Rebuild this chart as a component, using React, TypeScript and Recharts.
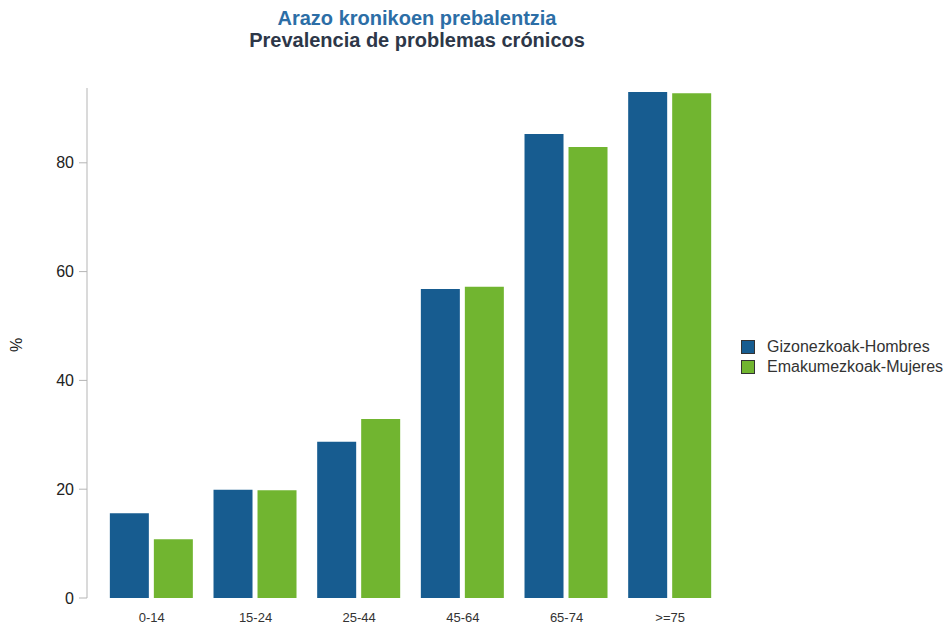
import { BarChart, Bar, XAxis, YAxis } from 'recharts';

const ageGroups = ['0-14', '15-24', '25-44', '45-64', '65-74', '>=75'];
const hombres = [15.6, 19.9, 28.7, 56.8, 85.3, 93.0];
const mujeres = [10.8, 19.8, 32.9, 57.2, 82.9, 92.8];
const yTicks = [0, 20, 40, 60, 80];

const seriesNames = ['Gizonezkoak-Hombres', 'Emakumezkoak-Mujeres'];
const seriesColors = ['#175c90', '#71b530'];

const data = ageGroups.map((g, i) => ({
  group: g,
  hombres: hombres[i],
  mujeres: mujeres[i],
}));

const font = '"Liberation Sans", Arial, sans-serif';

const ChartLegend = () => (
  <div style={{ fontFamily: font, fontSize: 16, color: '#333' }}>
    {seriesNames.map((name, i) => (
      <div key={name} style={{ display: 'flex', alignItems: 'center', height: 20 }}>
        <span
          style={{
            width: 12,
            height: 12,
            background: seriesColors[i],
            border: '1px solid #333',
            marginRight: 12,
          }}
        />
        <span>{name}</span>
      </div>
    ))}
  </div>
);

export default function App() {
  return (
    <div style={{ position: 'absolute', left: 0, top: 0, width: 949, height: 625, background: '#fff', fontFamily: font }}>
      <div style={{ position: 'absolute', left: 0, width: 834, top: 7, textAlign: 'center', fontWeight: 'bold', fontSize: 20, lineHeight: '22px' }}>
        <div style={{ color: '#2c6ea6' }}>Arazo kronikoen prebalentzia</div>
        <div style={{ color: '#2d3748' }}>Prevalencia de problemas crónicos</div>
      </div>
      <div
        style={{
          position: 'absolute',
          left: 10,
          top: 336,
          fontSize: 16,
          color: '#222',
          transform: 'rotate(-90deg)',
        }}
      >
        %
      </div>
      <div style={{ position: 'absolute', left: 741, top: 337 }}>
        <ChartLegend />
      </div>
      <BarChart
        width={949}
        height={625}
        data={data}
        margin={{ top: 88, right: 227, left: 0, bottom: 0 }}
        barCategoryGap="9.5%"
        barGap={5}
      >
        <XAxis
          dataKey="group"
          axisLine={false}
          tickLine={false}
          height={27}
          tickMargin={9}
          padding={{ left: 13, right: 0 }}
          tick={{ fontSize: 13, fill: '#333', fontFamily: font }}
        />
        <YAxis
          width={87}
          domain={[0, 93.75]}
          ticks={yTicks}
          axisLine={{ stroke: '#b5b5b5' }}
          tickLine={{ stroke: '#b5b5b5' }}
          tickSize={8}
          tickMargin={5}
          tick={{ fontSize: 16, fill: '#222', fontFamily: font }}
        />
        <Bar dataKey="hombres" name={seriesNames[0]} fill={seriesColors[0]} isAnimationActive={false} />
        <Bar dataKey="mujeres" name={seriesNames[1]} fill={seriesColors[1]} isAnimationActive={false} />
      </BarChart>
    </div>
  );
}
